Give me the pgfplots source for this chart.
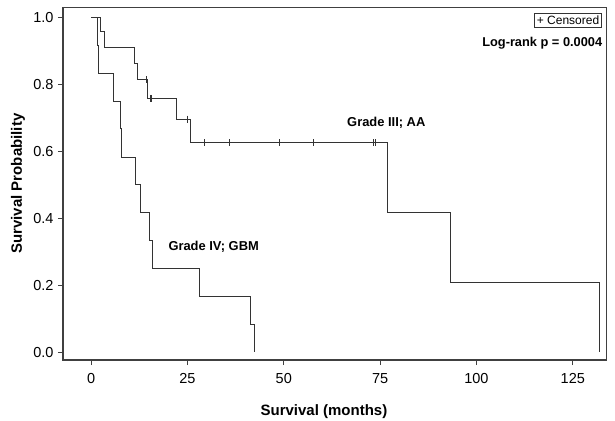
\documentclass[border=0pt]{standalone}
\usepackage{fontspec}
\setmainfont{Liberation Sans}
\usepackage{pgfplots}
\pgfplotsset{compat=1.18}
\begin{document}
\begin{tikzpicture}
\begin{axis}[
  scale only axis, width=543.7bp, height=352.7bp,
  xmin=-7.3, xmax=133.8, ymin=-0.023, ymax=1.03,
  axis line style={draw=black!75, line width=1.3bp},
  tick align=outside, major tick length=5bp,
  tick style={draw=black!75, line width=0.9bp},
  xtick pos=lower, ytick pos=left,
  xtick={0,25,50,75,100,125}, ytick={0,0.2,0.4,0.6,0.8,1.0},
  /pgf/number format/assume math mode=true,
  yticklabel style={xshift=-1bp, /pgf/number format/.cd, fixed, fixed zerofill, precision=1},
  ticklabel style={font=\fontsize{14.5bp}{16bp}\selectfont},
  xticklabel style={yshift=-5bp},
  xlabel={Survival (months)}, ylabel={Survival Probability},
  label style={font=\bfseries\fontsize{15bp}{17bp}\selectfont},
  xlabel style={at={(axis description cs:0.48,-0.1474)}, anchor=center},
  ylabel style={at={(axis description cs:-0.0828,0.5)}, anchor=center},
  clip=false,
]
% Grade III; AA
\addplot[const plot, black!80, line width=1bp] coordinates {
 (0,1) (2.4,0.957) (3.5,0.909) (11.2,0.861) (12.0,0.814) (14.6,0.758)
 (22.1,0.696) (25.9,0.626) (76.9,0.417) (93.3,0.209) (131.8,0)
};
% Grade IV; GBM
\addplot[const plot, black!80, line width=1bp] coordinates {
 (0,1) (1.6,0.917) (1.9,0.833) (5.8,0.75) (7.5,0.667) (7.8,0.583)
 (11.5,0.5) (12.7,0.417) (15.1,0.333) (16.0,0.25) (28.1,0.167)
 (41.3,0.083) (42.3,0)
};
% censored
\addplot[only marks, mark=|, mark size=3.5bp, black!80, mark options={line width=0.8bp}] coordinates {
 (14.3,0.814) (15.3,0.758) (15.7,0.758) (25.1,0.696) (29.3,0.626)
 (35.9,0.626) (48.9,0.626) (57.7,0.626) (73.3,0.626) (73.9,0.626)
};
\node[font=\bfseries\fontsize{12.9bp}{15bp}\selectfont] at (axis cs:76.6,0.684) {Grade III; AA};
\node[font=\bfseries\fontsize{12.9bp}{15bp}\selectfont] at (axis cs:31.8,0.315) {Grade IV; GBM};
\node[font=\bfseries\fontsize{12.8bp}{15bp}\selectfont, anchor=east, inner sep=0pt] at (rel axis cs:0.992,0.899) {Log-rank p = 0.0004};
\node[font=\fontsize{12bp}{14bp}\selectfont, draw=black!80, line width=0.8bp, anchor=north east, inner sep=2.2bp] at (rel axis cs:0.991,0.983) {+ Censored};
\end{axis}
\pgfresetboundingbox
\path[use as bounding box] ([shift={(-63bp,-61bp)}]current axis.south west) rectangle ([shift={(8.3bp,7.3bp)}]current axis.north east);
\end{tikzpicture}
\end{document}
